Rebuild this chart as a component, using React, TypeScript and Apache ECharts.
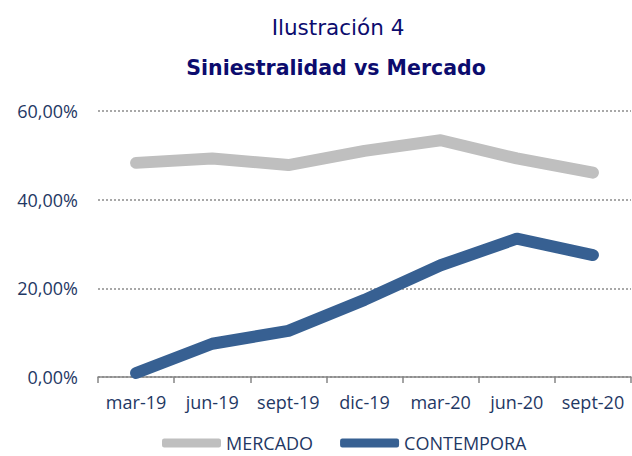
import React, { useEffect, useRef } from "react";
import * as echarts from "echarts";

const categories = ["mar-19", "jun-19", "sept-19", "dic-19", "mar-20", "jun-20", "sept-20"];
const mercado = [48.3, 49.3, 47.8, 51.0, 53.4, 49.3, 46.1];
const contempora = [0.9, 7.5, 10.4, 17.4, 25.2, 31.2, 27.5];
const yTicks = { min: 0, max: 60, interval: 20 };
const titleText = "Ilustración 4";
const subtitleText = "Siniestralidad vs Mercado";

export default function App() {
  const ref = useRef<HTMLDivElement>(null);
  useEffect(() => {
    if (!ref.current) return;
    const chart = echarts.init(ref.current, null, { renderer: "svg" });
    const labelColor = "#1F3864";
    chart.setOption({
      animation: false,
      backgroundColor: "#ffffff",
      title: [
        {
          text: titleText,
          left: 333,
          textAlign: "center",
          top: 11,
          textStyle: { fontFamily: "DejaVu Sans", fontWeight: "normal", fontSize: 21.5, color: "#0C0C6E" },
        },
        {
          text: subtitleText,
          left: 331,
          textAlign: "center",
          top: 52,
          textStyle: { fontFamily: "DejaVu Sans", fontWeight: "bold", fontSize: 20.5, color: "#0C0C6E" },
        },
      ],
      grid: { left: 98, right: 1, top: 111, bottom: 79, containLabel: false },
      legend: {
        top: 433,
        left: 162,
        padding: 0,
        itemWidth: 59,
        itemHeight: 9,
        itemGap: 27,
        icon: "roundRect",
        textStyle: { fontFamily: "Open Sans", fontSize: 18, lineHeight: 20, color: labelColor },
        data: ["MERCADO", "CONTEMPORA"],
      },
      xAxis: {
        type: "category",
        data: categories,
        boundaryGap: true,
        axisLine: { lineStyle: { color: "#868686", width: 1.5 } },
        axisTick: { show: true, length: 6, lineStyle: { color: "#868686", width: 1.5 } },
        axisLabel: { interval: 0, fontFamily: "Open Sans", fontSize: 18, color: labelColor, margin: 16 },
      },
      yAxis: {
        type: "value",
        min: yTicks.min,
        max: yTicks.max,
        interval: yTicks.interval,
        axisLine: { show: false },
        axisTick: { show: false },
        axisLabel: {
          fontFamily: "Open Sans",
          fontSize: 18,
          color: labelColor,
          margin: 20,
          formatter: (v: number) => v.toFixed(2).replace(".", ",") + "%",
        },
        splitLine: { lineStyle: { color: "#8C8C8C", type: [2, 2], width: 1.5 } },
      },
      series: [
        {
          name: "MERCADO",
          type: "line",
          data: mercado,
          symbol: "none",
          color: "#BFBFBF",
          lineStyle: { width: 12, color: "#BFBFBF", cap: "round", join: "round" },
        },
        {
          name: "CONTEMPORA",
          type: "line",
          data: contempora,
          symbol: "none",
          color: "#376092",
          lineStyle: { width: 12, color: "#376092", cap: "round", join: "round" },
        },
      ],
    });
    return () => chart.dispose();
  }, []);
  return <div ref={ref} style={{ width: 632, height: 456, position: "absolute", left: 0, top: 0 }} />;
}
